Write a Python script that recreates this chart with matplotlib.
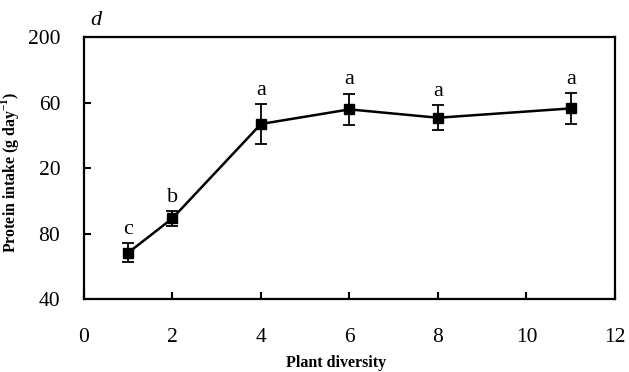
import matplotlib
matplotlib.use("Agg")
import matplotlib.pyplot as plt

diversity = [1, 2, 4, 6, 8, 11]
protein = [68.3, 89.3, 146.9, 155.8, 150.7, 156.4]
err = [6.0, 4.6, 12.0, 9.7, 7.7, 9.4]
letters = ["c", "b", "a", "a", "a", "a"]
yticks = [40, 80, 120, 160, 200]
ytick_labels = ["40", "80", "20", "60", "200"]
xticks = [0, 2, 4, 6, 8, 10, 12]

plt.rcParams['font.family'] = ['Liberation Serif', 'DejaVu Serif']
plt.rcParams['mathtext.fontset'] = 'custom'
plt.rcParams['mathtext.rm'] = 'Liberation Serif'
plt.rcParams['mathtext.bf'] = 'Liberation Serif:bold'

fig = plt.figure(figsize=(6.29, 3.72), dpi=100)
ax = fig.add_axes([0.1335, 0.1962, 0.8442, 0.7043])

ax.errorbar(diversity, protein, yerr=err, color='black', lw=1.8, marker='s',
            markersize=7, capsize=4, capthick=1.3, elinewidth=1.3)

for x, y, e, t in zip(diversity, protein, err, letters):
    ax.annotate(t, (x, y + e), xytext=(0, 3), textcoords='offset points',
                ha='center', va='bottom', fontsize=16)

ax.set_xlim(0, 12)
ax.set_ylim(40, 200)
ax.set_xticks(xticks)
ax.set_yticks(yticks)
ax.set_yticklabels(ytick_labels)
ax.tick_params(axis='both', direction='in', length=5, width=1.5, labelsize=15.5)
ax.tick_params(axis='x', pad=21)
ax.tick_params(axis='y', pad=17)
for s in ax.spines.values():
    s.set_linewidth(1.6)

ax.set_xlabel('Plant diversity', fontsize=11.5, fontweight='bold')
ax.xaxis.set_label_coords(0.475, -0.215)
ax.set_ylabel(r'Protein intake (g day$^{\mathbf{-1}}$)', fontsize=11.4, fontweight='bold')
ax.yaxis.set_label_coords(-0.118, 0.485)
ax.text(0.012, 1.025, 'd', transform=ax.transAxes, fontsize=16, style='italic',
        ha='left', va='bottom')

fig.savefig('out.png', dpi=100)
